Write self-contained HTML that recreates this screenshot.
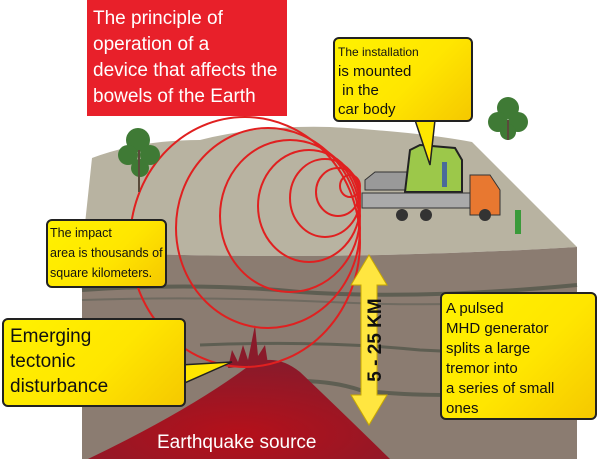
<!DOCTYPE html>
<html><head><meta charset="utf-8"><style>
html,body{margin:0;padding:0;background:#fff;}
body{width:600px;height:459px;overflow:hidden;position:relative;font-family:"Liberation Sans",sans-serif;}
.box{position:absolute;background:linear-gradient(135deg,#fff200 0%,#ffe600 55%,#f5c800 100%);border:2px solid #222;border-radius:6px;color:#111;box-sizing:border-box;}
</style></head><body>
<svg width="600" height="459" style="position:absolute;left:0;top:0">
  <path d="M82,252 L92,158 Q140,140 200,140 Q260,125 330,127 Q420,132 472,142 L577,247 Q330,262 82,252 Z" fill="#b8b3a1"/>
  <path d="M82,252 Q330,262 577,247 L577,459 L82,459 Z" fill="#8b7c71"/>
  <path d="M82,290 Q200,282 300,292 Q420,300 577,285" stroke="#5e5e52" stroke-width="4" fill="none"/>
  <path d="M82,300 Q200,296 330,302 Q450,308 577,298" stroke="#6f6a60" stroke-width="2" fill="none"/>
  <path d="M200,345 Q320,340 420,350 Q500,355 577,345" stroke="#5e5e52" stroke-width="3" fill="none"/>
  <path d="M210,395 Q300,370 360,390 Q430,400 577,390" stroke="#5e5e52" stroke-width="4" fill="none"/>
  <defs><radialGradient id="g" cx="0.5" cy="0.75" r="0.7"><stop offset="0" stop-color="#b5101a"/><stop offset="1" stop-color="#8a1a2a"/></radialGradient></defs>
  <path d="M88,459 Q190,410 250,365 Q275,352 300,372 Q340,410 390,459 Z" fill="url(#g)"/>
  <path d="M228,368 L232,350 L238,362 L243,345 L248,360 L255,325 L258,356 L265,345 L268,364 Z" fill="#8a1a2a"/>
  <g stroke="#e02020" stroke-width="2" fill="none">
    <ellipse cx="350" cy="186" rx="10" ry="11"/>
    <ellipse cx="338" cy="192" rx="22" ry="24"/>
    <ellipse cx="325" cy="198" rx="35" ry="39"/>
    <ellipse cx="309" cy="206" rx="51" ry="56"/>
    <ellipse cx="290" cy="216" rx="70" ry="76"/>
    <ellipse cx="268" cy="228" rx="92" ry="100"/>
    <ellipse cx="245" cy="242" rx="115" ry="125"/>
  </g>
  <g fill="#3f7a35"><circle cx="138" cy="140" r="12"/><circle cx="128" cy="155" r="10"/><circle cx="150" cy="155" r="10"/><circle cx="140" cy="168" r="9"/></g>
  <rect x="138" y="150" width="2" height="42" fill="#5a4a3a"/>
  <g fill="#3f7a35"><circle cx="508" cy="108" r="11"/><circle cx="498" cy="122" r="10"/><circle cx="518" cy="122" r="10"/><circle cx="508" cy="132" r="8"/></g>
  <rect x="507" y="120" width="2" height="20" fill="#5a4a3a"/>
  <path d="M365,180 L375,172 L410,172 L410,190 L365,190 Z" fill="#999" stroke="#333"/>
  <path d="M405,192 L410,150 L420,145 L455,148 L462,160 L462,192 Z" fill="#9cc84a" stroke="#222" stroke-width="2"/>
  <rect x="362" y="193" width="110" height="15" fill="#aaa" stroke="#333"/>
  <path d="M470,175 L490,175 L500,190 L500,215 L470,215 Z" fill="#e87830" stroke="#333"/>
  <g fill="#333"><circle cx="402" cy="215" r="6"/><circle cx="426" cy="215" r="6"/><circle cx="485" cy="215" r="6"/></g>
  <rect x="442" y="162" width="5" height="25" fill="#4a6a9a"/>
  <rect x="515" y="210" width="6" height="24" fill="#3a9a3a"/>
  <path d="M415,120 L430,165 L435,120 Z" fill="#ffe600" stroke="#222" stroke-width="1.5"/>
  <path d="M180,365 L232,362 L180,385 Z" fill="#ffe600" stroke="#222" stroke-width="1.5"/>
  <path d="M369,255 L387,285 L377,285 L377,395 L387,395 L369,425 L351,395 L361,395 L361,285 L351,285 Z" fill="#ffe640" stroke="#c8a800" stroke-width="1"/>
  <text transform="translate(376,340) rotate(-90)" text-anchor="middle" dominant-baseline="middle" font-family="Liberation Sans" font-weight="bold" font-size="19" fill="#111">5 - 25 KM</text>
  <text x="157" y="448" font-family="Liberation Sans" font-size="19" fill="#fff">Earthquake source</text>
</svg>
<div style="position:absolute;left:87px;top:0;width:200px;height:116px;background:#e8202a;color:#fff;font-size:19px;line-height:26px;padding:6px 0 0 6px;box-sizing:border-box;">The principle of<br>operation of a<br>device that affects the<br>bowels of the Earth</div>
<div class="box" style="left:333px;top:37px;width:140px;height:85px;font-size:15px;line-height:19px;padding:3px 3px;"><span style="font-size:12px">The installation</span><br>is mounted<br>&nbsp;in the<br>car body</div>
<div class="box" style="left:46px;top:219px;width:121px;height:69px;font-size:12.5px;line-height:20px;padding:2px 2px;">The impact<br>area is thousands of<br>square kilometers.</div>
<div class="box" style="left:2px;top:318px;width:184px;height:89px;font-size:19px;line-height:25px;padding:4px 6px;">Emerging<br>tectonic<br>disturbance</div>
<div class="box" style="left:440px;top:292px;width:157px;height:128px;font-size:15px;line-height:20px;padding:5px 4px;">A pulsed<br>MHD generator<br>splits a large<br>tremor into<br>a series of small<br>ones</div>
</body></html>
